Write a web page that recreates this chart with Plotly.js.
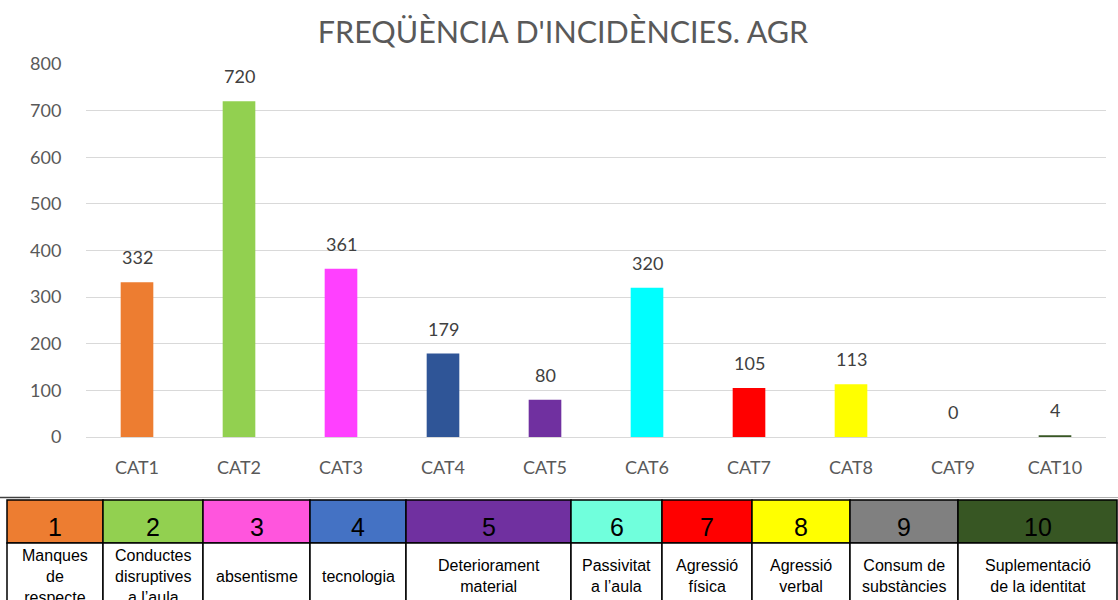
<!DOCTYPE html>
<html>
<head>
<meta charset="utf-8">
<script src="https://cdn.plot.ly/plotly-3.0.1.min.js"></script>
<style>html,body{margin:0;padding:0;background:#fff;}#chart{width:1118px;height:600px;}</style>
</head>
<body>
<div id="chart"></div>
<script>
// ---- data ----
const categories = ["CAT1","CAT2","CAT3","CAT4","CAT5","CAT6","CAT7","CAT8","CAT9","CAT10"];
const values = [332, 720, 361, 179, 80, 320, 105, 113, 0, 4];
const barColors = ["#ED7D31","#92D050","#FF40FF","#2F5597","#7030A0","#00FFFF","#FF0000","#FFFF00","#808080","#375623"];
const tableNumbers = ["1","2","3","4","5","6","7","8","9","10"];
const tableColors = ["#ED7D31","#92D050","#FF55DD","#4472C4","#7030A0","#70FFDC","#FF0000","#FFFF00","#808080","#375623"];
const tableLabels = ["Manques<br>de<br>respecte","Conductes<br>disruptives<br>a l’aula","absentisme","tecnologia","Deteriorament<br>material","Passivitat<br>a l’aula","Agressió<br>física","Agressió<br>verbal","Consum de<br>substàncies","Suplementació<br>de la identitat"];

// ---- layout geometry (pixels) ----
const W = 1118, H = 600;
const mL = 86, mR = 12, mT = 64, mB = 163;
const plotW = W - mL - mR, plotH = H - mT - mB;
const px = x => (x - mL) / plotW;
const py = y => (H - mB - y) / plotH;
const colEdges = [7,103,203,310,406,571,662,752,850,958,1117];
const rowTop = 500, rowMid = 543, rowBot = 610;

const shapes = [];
const annotations = [];

// bar value labels
categories.forEach((c,i) => {
  annotations.push({x:c, y:values[i], xref:'x', yref:'y', text:String(values[i]),
    showarrow:false, yanchor:'middle', yshift:25,
    font:{family:'Lato, "Open Sans", sans-serif', size:18, color:'#404040'}});
});

// top separator line
shapes.push({type:'line', xref:'paper', yref:'paper', x0:px(0), x1:px(W), y0:py(497.5), y1:py(497.5), line:{color:'#b0b0b0', width:1}});
shapes.push({type:'line', xref:'paper', yref:'paper', x0:px(0), x1:px(30), y0:py(497.5), y1:py(497.5), line:{color:'#404040', width:1.5}});

// table cells
for (let i = 0; i < tableNumbers.length; i++) {
  const x0 = colEdges[i], x1 = colEdges[i+1];
  shapes.push({type:'rect', xref:'paper', yref:'paper', x0:px(x0), x1:px(x1), y0:py(rowMid), y1:py(rowTop),
    fillcolor:tableColors[i], line:{color:'#000', width:1.5}});
  shapes.push({type:'rect', xref:'paper', yref:'paper', x0:px(x0), x1:px(x1), y0:py(rowBot), y1:py(rowMid),
    fillcolor:'#ffffff', line:{color:'#000', width:1.5}});
  const cx = px((x0 + x1) / 2);
  annotations.push({x:cx, y:py(527), xref:'paper', yref:'paper', text:tableNumbers[i], showarrow:false,
    xanchor:'center', yanchor:'middle', font:{family:'"Liberation Sans", Arial, sans-serif', size:25, color:'#000'}});
  annotations.push({x:cx, y:py(576), xref:'paper', yref:'paper', text:tableLabels[i], showarrow:false,
    xanchor:'center', yanchor:'middle', align:'center',
    font:{family:'"Liberation Sans", Arial, sans-serif', size:16, color:'#000'}});
}

const trace = {
  type:'bar', x:categories, y:values,
  marker:{color:barColors},
  hoverinfo:'x+y'
};

const layout = {
  width:W, height:H,
  margin:{l:mL, r:mR, t:mT, b:mB, pad:0},
  paper_bgcolor:'#fff', plot_bgcolor:'#fff',
  bargap:0.68,
  showlegend:false,
  title:{text:"FREQÜÈNCIA D'INCIDÈNCIES. AGR", x:0.5036, xanchor:'center', y:1-32/600, yanchor:'middle', yref:'container',
    font:{family:'Lato, "Open Sans", sans-serif', size:30.5, color:'#595959'}},
  xaxis:{type:'category', showgrid:false, showline:false, zeroline:false,
    ticks:'outside', ticklen:14, tickcolor:'rgba(0,0,0,0)',
    tickfont:{family:'Lato, "Open Sans", sans-serif', size:18, color:'#595959'}, fixedrange:true},
  yaxis:{range:[0,800], dtick:100, showgrid:true, gridcolor:'#d9d9d9', gridwidth:1,
    zeroline:true, zerolinecolor:'#d9d9d9', zerolinewidth:1, showline:false,
    ticks:'outside', ticklen:20, tickcolor:'rgba(0,0,0,0)',
    tickfont:{family:'Lato, "Open Sans", sans-serif', size:18, color:'#595959'}, fixedrange:true},
  shapes:shapes,
  annotations:annotations
};

Plotly.newPlot('chart', [trace], layout, {displayModeBar:false, staticPlot:true});
</script>
</body>
</html>
